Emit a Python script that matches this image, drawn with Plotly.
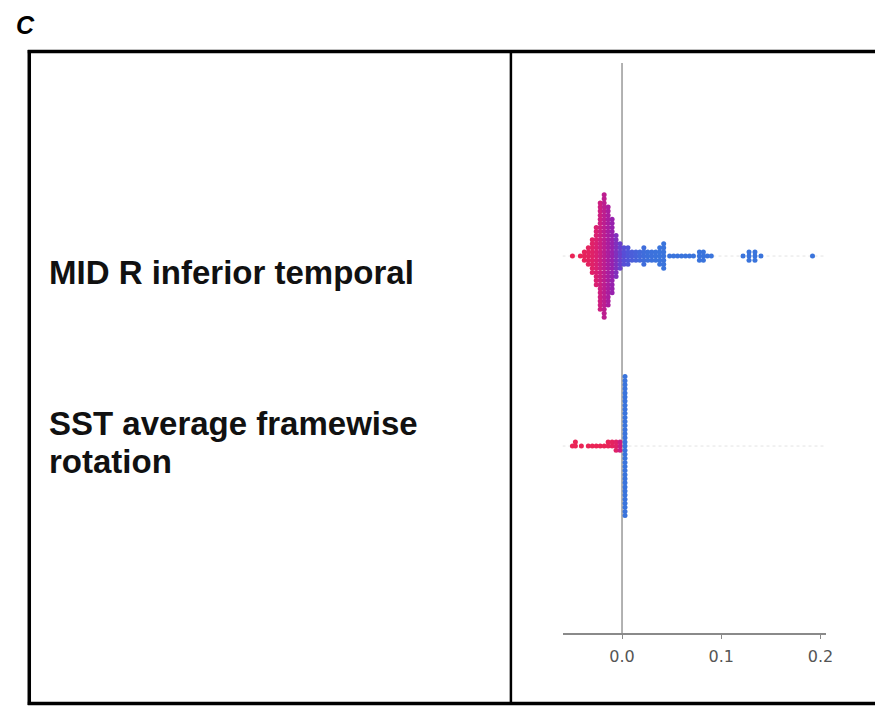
import plotly.graph_objects as go

# ---------------- data ----------------
features = ["MID R inferior temporal", "SST average framewise rotation"]
feature_label_lines = [["MID R inferior temporal"], ["SST average framewise", "rotation"]]
feature_rows = [1, 0]  # y position of each feature row (top row = 1)

# SHAP value bins, number of stacked points in each bin, feature value (0=low/blue, 1=high/red)
mid_shap = [-0.050, -0.042, -0.038, -0.034, -0.030, -0.026, -0.022, -0.018, -0.014, -0.010,
            -0.006, -0.002, 0.002, 0.006, 0.010, 0.014, 0.018, 0.022, 0.026, 0.030,
            0.034, 0.038, 0.042, 0.048, 0.052, 0.056, 0.060, 0.064, 0.068, 0.072,
            0.078, 0.082, 0.086, 0.090, 0.122, 0.128, 0.134, 0.140, 0.192]
mid_counts = [1, 1, 3, 5, 9, 15, 27, 31, 25, 19,
              11, 7, 5, 5, 3, 3, 3, 5, 3, 3,
              3, 5, 7, 1, 1, 1, 1, 1, 1, 1,
              3, 3, 1, 1, 1, 3, 3, 1, 1]
mid_feature = [1.0, 1.0, 0.97, 0.94, 0.90, 0.84, 0.76, 0.68, 0.60, 0.52,
               0.44, 0.36, 0.28, 0.22, 0.16, 0.12, 0.08, 0.05, 0.03, 0.02,
               0.01, 0.0, 0.0, 0.0, 0.0, 0.0, 0.0, 0.0, 0.0, 0.0,
               0.0, 0.0, 0.0, 0.0, 0.0, 0.0, 0.0, 0.0, 0.0]

sst_shap = [-0.050, -0.047, -0.041, -0.034, -0.030, -0.026, -0.022, -0.018, -0.014, -0.010,
            -0.006, -0.002, 0.003]
sst_counts = [1, 2, 1, 1, 1, 1, 1, 1, 2, 2, 3, 3, 35]
sst_feature = [1.0, 1.0, 1.0, 1.0, 1.0, 1.0, 1.0, 1.0, 0.98, 0.95, 0.9, 0.75, 0.0]

x_tick_vals = [0.0, 0.1, 0.2]
x_tick_text = ["0.0", "0.1", "0.2"]
panel_label = "C"

# ---------------- layout helpers ----------------
W, H = 882, 707
def px(x):
    return x / W
def py(y):
    return 1 - y / H

ROW_STEP = 0.0215  # vertical spacing of stacked points (axis units)

def swarm(bins, counts, vals, row):
    xs, ys, cs = [], [], []
    for b, n, v in zip(bins, counts, vals):
        for k in range(n):
            off = ((k + 1) // 2) * (1 if k % 2 else -1)
            xs.append(b)
            ys.append(row + off * ROW_STEP)
            cs.append(v)
    return xs, ys, cs

colorscale = [[0.0, "#3a74dc"], [0.3, "#5a4ad6"], [0.55, "#a01ca8"],
              [0.8, "#d61f78"], [1.0, "#ea2456"]]

fig = go.Figure()

for bins, counts, vals, row in [(mid_shap, mid_counts, mid_feature, feature_rows[0]),
                                (sst_shap, sst_counts, sst_feature, feature_rows[1])]:
    xs, ys, cs = swarm(bins, counts, vals, row)
    fig.add_trace(go.Scatter(
        x=xs, y=ys, mode="markers",
        marker=dict(size=5, color=cs, colorscale=colorscale, cmin=0, cmax=1,
                    line=dict(width=0)),
        showlegend=False, hoverinfo="x"))

x_range = [-0.060, 0.206]
y_range = [-0.984, 2.016]

shapes = []
# dotted row guide lines
for r in feature_rows:
    shapes.append(dict(type="line", xref="x", yref="y", x0=x_range[0], x1=x_range[1],
                       y0=r, y1=r, line=dict(color="#d8d8d8", width=0.7, dash="dot"),
                       layer="below"))
# zero line
shapes.append(dict(type="line", xref="x", yref="y", x0=0, x1=0, y0=y_range[0], y1=y_range[1],
                   line=dict(color="#999999", width=1.5), layer="below"))
# outer frame (right side runs off the picture) and divider
frame = dict(color="black", width=3.5)
shapes.append(dict(type="line", xref="paper", yref="paper", x0=px(28), x1=px(882),
                   y0=py(51.5), y1=py(51.5), line=frame))
shapes.append(dict(type="line", xref="paper", yref="paper", x0=px(28), x1=px(882),
                   y0=py(703.5), y1=py(703.5), line=frame))
shapes.append(dict(type="line", xref="paper", yref="paper", x0=px(29.5), x1=px(29.5),
                   y0=py(50), y1=py(705), line=frame))
shapes.append(dict(type="line", xref="paper", yref="paper", x0=px(515), x1=px(515),
                   y0=py(703), y1=py(51), line=dict(color="black", width=2.5)))

label_font = dict(family="Liberation Sans, Arial, sans-serif", size=33, color="#111111")
annotations = [
    dict(text="<b><i>" + panel_label + "</i></b>", xref="paper", yref="paper",
         x=px(14), y=py(25), xanchor="left", yanchor="middle", showarrow=False,
         font=dict(family="Liberation Sans, Arial, sans-serif", size=25, color="black")),
]
label_line_y = [[272], [424, 461]]
for lines, ys in zip(feature_label_lines, label_line_y):
    for t, yy in zip(lines, ys):
        annotations.append(dict(text="<b>" + t + "</b>", xref="paper", yref="paper",
                                x=px(47), y=py(yy), xanchor="left", yanchor="middle",
                                showarrow=False, font=label_font))

fig.update_layout(
    width=W, height=H, autosize=False,
    margin=dict(l=0, r=0, t=0, b=0),
    paper_bgcolor="white", plot_bgcolor="white",
    shapes=shapes, annotations=annotations,
    xaxis=dict(domain=[px(567), px(833)], range=x_range, showgrid=False, zeroline=False,
               showline=True, linecolor="#8a8a8a", linewidth=1.5,
               ticks="outside", ticklen=4, tickcolor="#8a8a8a", tickwidth=1,
               tickvals=x_tick_vals, ticktext=x_tick_text, ticklabelstandoff=4,
               tickfont=dict(family="DejaVu Sans", size=16, color="#555555"),
               anchor="y", fixedrange=True),
    yaxis=dict(domain=[py(633), py(63)], range=y_range, showgrid=False, zeroline=False,
               showline=False, showticklabels=False, ticks="", fixedrange=True),
)

post = (
    "document.body.style.margin='0';"
    "document.body.style.overflow='hidden';"
    "var gd=document.getElementById('{plot_id}');"
    "var vw=document.documentElement.clientWidth||window.innerWidth;"
    "var vh=document.documentElement.clientHeight||window.innerHeight;"
    "gd.style.width=vw+'px';gd.style.height=vh+'px';"
    "Plotly.relayout(gd,{width:vw,height:vh});"
)

fig.write_html("out.html",
               config={"displayModeBar": False, "responsive": False},
               post_script=post)
